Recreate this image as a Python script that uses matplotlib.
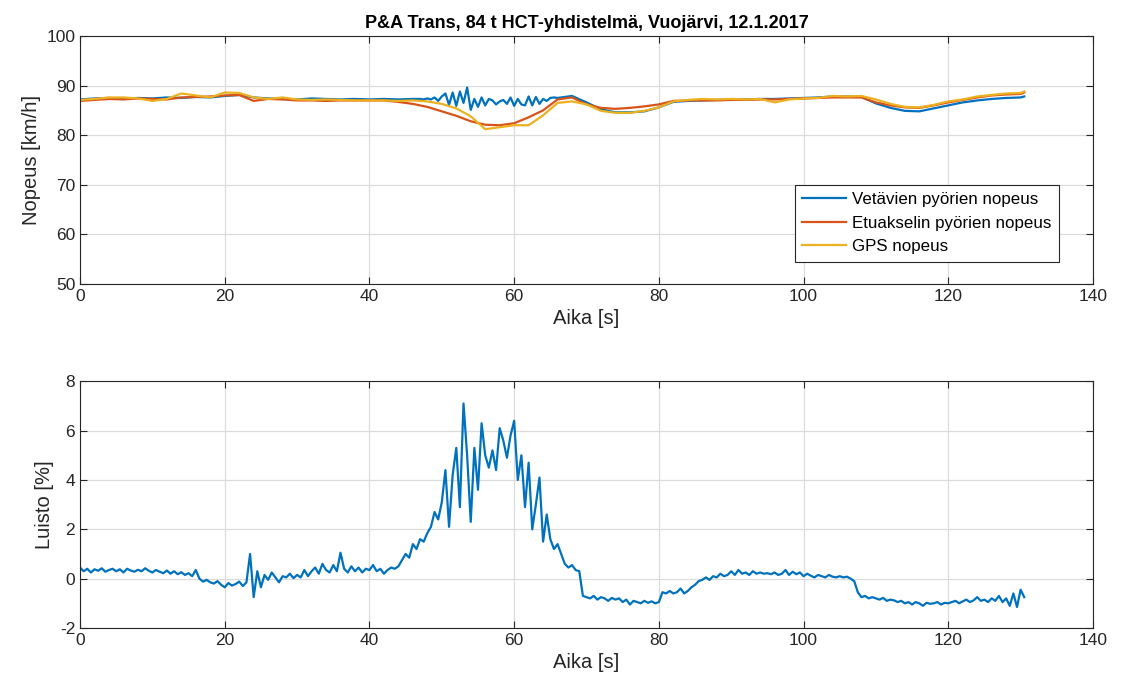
import numpy as np
import matplotlib
matplotlib.use('Agg')
import matplotlib.pyplot as plt

plt.rcParams['font.family'] = ['Liberation Sans', 'DejaVu Sans']
plt.rcParams['axes.unicode_minus'] = False

# Nopeudet (top plot)
t_veto = [0, 2, 4, 6, 8, 10, 12, 14, 16, 18, 20, 22, 24, 26, 28, 30, 32, 34, 36, 38, 40, 42, 44, 46,
          47, 47.5, 48, 48.5, 49, 49.5, 50, 50.5, 51, 51.5, 52, 52.5, 53, 53.5, 54, 54.5, 55, 55.5,
          56, 56.5, 57, 57.5, 58, 58.5, 59, 59.5, 60, 60.5, 61, 61.5, 62, 62.5, 63, 63.5, 64, 64.5,
          65, 65.5, 66, 66.5, 67,
          68, 70, 72, 74, 76, 78, 80, 82, 84, 86, 88, 90, 92, 94, 96, 98, 100, 102, 104, 106, 108,
          110, 112, 114, 116, 118, 120, 122, 124, 126, 128, 130, 130.5]
v_veto = [87.2, 87.4, 87.5, 87.3, 87.5, 87.4, 87.6, 87.5, 87.7, 87.6, 87.9, 88.1, 87.6, 87.4, 87.3,
          87.2, 87.4, 87.3, 87.2, 87.3, 87.2, 87.3, 87.2, 87.3,
          87.3, 87.2, 87.4, 87.2, 87.6, 86.9, 87.8, 88.4, 86.1, 88.6, 85.9, 88.8, 86.5, 89.6, 85.1,
          87.3, 85.7, 87.6, 86.0, 87.3, 87.0, 86.2, 86.8, 87.1, 86.3, 87.6, 85.9, 87.3, 86.2, 86.0,
          87.8, 86.0, 87.7, 86.3, 87.3, 86.9, 87.5, 87.6, 87.5, 87.6, 87.7,
          87.9, 86.6, 85.2, 84.6, 84.6, 84.8, 85.6, 86.7, 86.9, 87.0, 87.1, 87.2, 87.2, 87.3, 87.3,
          87.4, 87.5, 87.6, 87.8, 87.8, 87.7, 86.4, 85.5, 84.9, 84.8, 85.4, 86.0, 86.6, 87.0, 87.3,
          87.5, 87.6, 87.8]

t_etu = [0, 2, 4, 6, 8, 10, 12, 14, 16, 18, 20, 22, 24, 26, 28, 30, 32, 34, 36, 38, 40, 42, 44,
         46, 48, 50, 52, 54, 56, 58, 60, 62, 64, 66, 68, 70, 72, 74, 76, 78, 80, 82, 84, 86, 88,
         90, 92, 94, 96, 98, 100, 102, 104, 106, 108, 110, 112, 114, 116, 118, 120, 122, 124,
         126, 128, 130, 130.5]
v_etu = [86.9, 87.1, 87.3, 87.2, 87.4, 87.3, 87.2, 87.6, 87.7, 87.8, 88.0, 88.1, 86.9, 87.3, 87.2,
         87.0, 87.0, 86.9, 87.0, 87.0, 87.0, 87.0, 86.7, 86.3, 85.7, 84.8, 83.9, 82.8, 82.1, 82.0,
         82.4, 83.6, 85.0, 87.2, 87.6, 86.2, 85.5, 85.3, 85.5, 85.8, 86.2, 86.9, 87.0, 87.0, 87.0,
         87.1, 87.1, 87.2, 87.2, 87.3, 87.4, 87.5, 87.6, 87.6, 87.6, 86.6, 86.0, 85.6, 85.5, 86.0,
         86.6, 87.1, 87.6, 88.0, 88.2, 88.3, 88.6]

t_gps = t_etu
v_gps = [87.1, 87.3, 87.6, 87.6, 87.4, 86.9, 87.3, 88.4, 88.0, 87.6, 88.6, 88.5, 87.6, 87.3, 87.6,
         87.2, 87.1, 87.2, 87.1, 87.0, 87.0, 87.0, 86.9, 87.0, 86.8, 86.3, 85.4, 83.8, 81.2, 81.6,
         82.0, 82.0, 84.0, 86.5, 86.8, 86.2, 84.9, 84.5, 84.5, 84.9, 85.6, 86.8, 87.1, 87.3, 87.2,
         87.3, 87.2, 87.3, 86.6, 87.2, 87.4, 87.5, 87.9, 87.8, 87.9, 87.2, 86.3, 85.7, 85.6, 86.1,
         86.8, 87.2, 87.8, 88.1, 88.4, 88.5, 88.8]

# Luisto (bottom plot), sampled every 0.5 s from 0 to 130.5 s
t_luisto = np.arange(0, 131, 0.5)
luisto = [
    0.45, 0.30, 0.40, 0.25, 0.38, 0.32, 0.42, 0.28, 0.35, 0.40,
    0.30, 0.38, 0.25, 0.40, 0.33, 0.28, 0.36, 0.30, 0.42, 0.32,
    0.25, 0.35, 0.28, 0.22, 0.33, 0.20, 0.30, 0.18, 0.26, 0.15,
    0.22, 0.10, 0.35, 0.00, -0.12, -0.05, -0.15, -0.20, -0.10, -0.25,
    -0.35, -0.18, -0.28, -0.22, -0.12, -0.30, -0.15, 1.00, -0.75, 0.30,
    -0.35, 0.15, -0.05, 0.25, 0.05, -0.15, 0.10, 0.05, 0.20, 0.02,
    0.15, 0.05, 0.35, 0.10, 0.30, 0.45, 0.20, 0.60, 0.35, 0.25,
    0.55, 0.30, 1.05, 0.40, 0.25, 0.50, 0.30, 0.45, 0.25, 0.40,
    0.35, 0.55, 0.30, 0.40, 0.20, 0.35, 0.45, 0.40, 0.50, 0.75,
    1.00, 0.85, 1.40, 1.20, 1.60, 1.50, 1.85, 2.10, 2.70, 2.40,
    3.10, 4.40, 2.10, 4.20, 5.30, 2.90, 7.10, 5.00, 2.30, 5.30,
    3.60, 6.30, 5.00, 4.50, 5.20, 4.40, 6.10, 5.60, 4.90, 5.80,
    6.40, 4.00, 5.00, 2.90, 4.70, 2.00, 3.00, 4.10, 1.50, 2.60,
    1.60, 1.20, 1.40, 1.00, 0.60, 0.45, 0.55, 0.35, 0.30, -0.70,
    -0.75, -0.80, -0.70, -0.85, -0.75, -0.80, -0.90, -0.78, -0.85, -0.80,
    -0.95, -0.85, -1.05, -0.90, -0.95, -1.00, -0.90, -0.98, -0.92, -1.00,
    -0.95, -0.55, -0.60, -0.50, -0.60, -0.55, -0.40, -0.60, -0.50, -0.35,
    -0.25, -0.10, -0.05, 0.05, -0.05, 0.10, 0.05, 0.20, 0.10, 0.15,
    0.30, 0.15, 0.35, 0.20, 0.25, 0.15, 0.30, 0.20, 0.25, 0.20,
    0.22, 0.18, 0.25, 0.15, 0.20, 0.35, 0.15, 0.28, 0.18, 0.25,
    0.10, 0.20, 0.12, 0.05, 0.15, 0.10, 0.05, 0.15, 0.08, 0.05,
    0.10, 0.05, 0.08, 0.00, -0.10, -0.55, -0.75, -0.70, -0.80, -0.75,
    -0.80, -0.85, -0.78, -0.90, -0.85, -0.88, -0.95, -0.90, -1.00, -0.95,
    -1.05, -0.95, -1.00, -1.10, -0.98, -1.02, -1.00, -0.95, -1.05, -0.98,
    -1.00, -0.95, -0.90, -1.00, -0.92, -0.85, -0.95, -0.88, -0.75, -0.90,
    -0.85, -0.95, -0.80, -0.90, -0.70, -0.95, -0.80, -1.10, -0.60, -1.15,
    -0.45, -0.75,
]

blue = '#0072BD'
orange = '#D95319'
yellow = '#EDB120'
axcol = '#262626'


def style(ax):
    ax.grid(True, color='#dcdcdc', linewidth=0.9)
    ax.set_axisbelow(True)
    ax.tick_params(direction='in', length=5, labelsize=12.5, colors=axcol, top=True, right=True)
    for s in ax.spines.values():
        s.set_color(axcol)
        s.set_linewidth(0.8)


fig = plt.figure(figsize=(11.21, 6.91), dpi=100)
ax1 = fig.add_axes([0.0714, 0.589, 0.9036, 0.359])
ax2 = fig.add_axes([0.0714, 0.0912, 0.9036, 0.357])

ax1.plot(t_veto, v_veto, color=blue, lw=1.6, label='Vetävien pyörien nopeus')
ax1.plot(t_etu, v_etu, color=orange, lw=1.6, label='Etuakselin pyörien nopeus')
ax1.plot(t_gps, v_gps, color=yellow, lw=1.6, label='GPS nopeus')
ax1.set_xlim(0, 140)
ax1.set_ylim(50, 100)
ax1.set_xticks(range(0, 141, 20))
ax1.set_yticks(range(50, 101, 10))
ax1.set_xlabel('Aika [s]', fontsize=14.5, color=axcol)
ax1.set_ylabel('Nopeus [km/h]', fontsize=14.5, color=axcol)
ax1.set_title('P&A Trans, 84 t HCT-yhdistelmä, Vuojärvi, 12.1.2017', fontsize=13,
              fontweight='bold', color='black', pad=6)
style(ax1)
leg = ax1.legend(loc='lower right', bbox_to_anchor=(0.966, 0.089), fontsize=12.2,
                 fancybox=False, framealpha=1, edgecolor=axcol, handlelength=2.6,
                 borderpad=0.45, labelspacing=0.5, handletextpad=0.3, borderaxespad=0)
leg.get_frame().set_linewidth(0.8)

ax2.plot(t_luisto, luisto, color=blue, lw=1.6)
ax2.set_xlim(0, 140)
ax2.set_ylim(-2, 8)
ax2.set_xticks(range(0, 141, 20))
ax2.set_yticks(range(-2, 9, 2))
ax2.set_xlabel('Aika [s]', fontsize=14.5, color=axcol)
ax2.set_ylabel('Luisto [%]', fontsize=14.5, color=axcol)
style(ax2)

fig.savefig('out.png', dpi=100)
